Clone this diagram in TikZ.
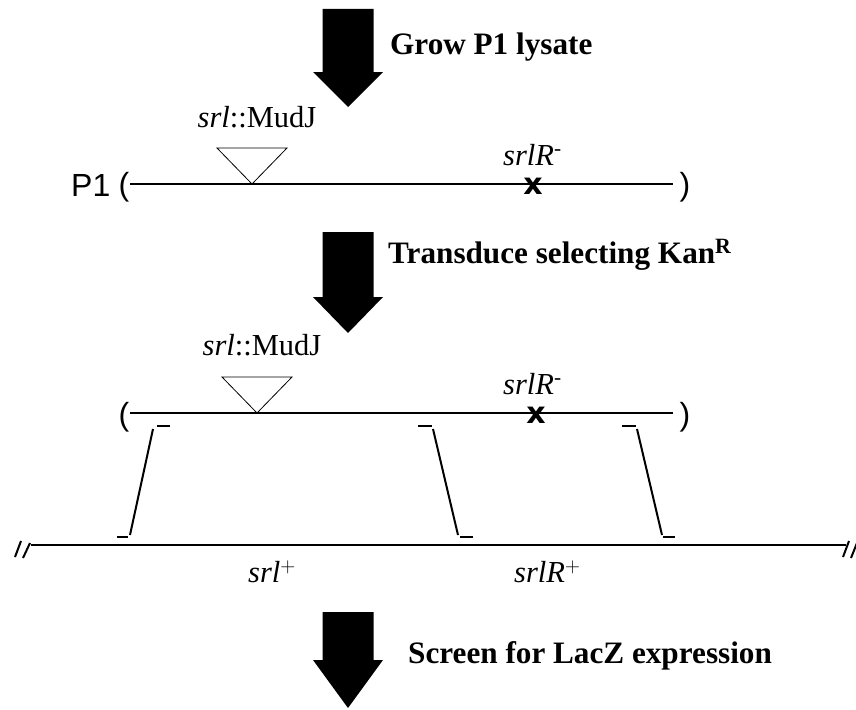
\documentclass[tikz,border=0pt]{standalone}
\usepackage{fontspec}
\setmainfont{Liberation Serif}
\newfontfamily\sansf{Liberation Sans}
\newfontfamily\sansbf{DejaVu Sans}
\begin{document}
\begin{tikzpicture}[x=1pt,y=-1pt,
  steptext/.style={font=\fontsize{31.2}{36}\selectfont\bfseries, anchor=base west, inner sep=0pt},
  gene/.style={font=\fontsize{30.5}{36}\selectfont, inner sep=0pt, anchor=base},
  genew/.style={font=\fontsize{30.5}{36}\selectfont, inner sep=0pt, anchor=base west},
  sanstext/.style={font=\sansf\fontsize{32}{36}\selectfont, inner sep=0pt, anchor=base},
  xmark/.style={font=\sansbf\bfseries\fontsize{30}{30}\selectfont, inner sep=0pt},
  dna/.style={line width=2.7pt},
  strand/.style={line width=2pt},
  endtick/.style={line width=2.8pt},
  insertion/.style={draw, line width=0.8pt},
  bigarrow/.style={fill=black}]
\useasboundingbox (0,0) rectangle (856,709);

% ---- arrow 1
\fill[bigarrow] (322.5,9) -- (373.5,9) -- (373.5,72) -- (383,72) -- (348,107) -- (313,72) -- (322.5,72) -- cycle;
\node[steptext] (t1) at (390,55) {Grow P1 lysate};

% ---- P1 line
\coordinate (a1) at (130,184);
\coordinate (b1) at (673,184);
\draw[dna] (a1) -- (b1);
\node[sanstext, anchor=base west] (p1) at (71,196) {P1};
\node[sanstext] (lp1) at (124,195) {(};
\node[sanstext] (rp1) at (685,195) {)};
\draw[insertion] (217,148) -- (287,148) -- (252,184) -- cycle;
\node[gene] (m1) at (257,127) {\textit{srl}::MudJ};
\node[genew] (r1) at (503,165) {\textit{srlR}\textsuperscript{-}};
\node[xmark] (x1) at (533,186) {x};

% ---- arrow 2
\fill[bigarrow] (322.5,232) -- (373.5,232) -- (373.5,297) -- (383,297) -- (348,333) -- (313,297) -- (322.5,297) -- cycle;
\node[steptext] (t2) at (388,263) {Transduce selecting Kan\textsuperscript{R}};

% ---- transducing fragment
\coordinate (a2) at (130,413);
\coordinate (b2) at (673,413);
\draw[dna] (a2) -- (b2);
\node[sanstext] (lp2) at (124,425) {(};
\node[sanstext] (rp2) at (685,425) {)};
\draw[insertion] (222,377) -- (292,377) -- (257,413) -- cycle;
\node[gene] (m2) at (262,355) {\textit{srl}::MudJ};
\node[genew] (r2) at (503,394) {\textit{srlR}\textsuperscript{-}};
\node[xmark] (x2) at (536,415) {x};

% ---- crossovers
\coordinate (c1t) at (153,429); \coordinate (c1b) at (130,535);
\coordinate (c2t) at (433,429); \coordinate (c2b) at (458,535);
\coordinate (c3t) at (637,429); \coordinate (c3b) at (662,535);
\draw[strand] (c1t) -- (c1b);
\draw[strand] (c2t) -- (c2b);
\draw[strand] (c3t) -- (c3b);
\draw[endtick] (157,426) -- (170,426);
\draw[endtick] (117,537) -- (128,537);
\draw[endtick] (418,426) -- (432,426);
\draw[endtick] (460,537) -- (473,537);
\draw[endtick] (622,426) -- (636,426);
\draw[endtick] (663,537) -- (675,537);

% ---- chromosome
\coordinate (ca) at (31,545);
\coordinate (cb) at (846,545);
\draw[dna] (ca) -- (cb);
\draw[strand] (15,557) -- (21,541);
\draw[strand] (23,558) -- (30,543);
\draw[strand] (843,557) -- (849,541);
\draw[strand] (851,558) -- (857,543);
\node[genew] (s1) at (248,582) {\textit{srl}$^{+}$};
\node[genew] (s2) at (514,582) {\textit{srlR}$^{+}$};

% ---- arrow 3
\fill[bigarrow] (322.5,612) -- (373.5,612) -- (373.5,660) -- (383,660) -- (348,708) -- (313,660) -- (322.5,660) -- cycle;
\node[steptext] (t3) at (408,663) {Screen for LacZ expression};
\end{tikzpicture}
\end{document}
